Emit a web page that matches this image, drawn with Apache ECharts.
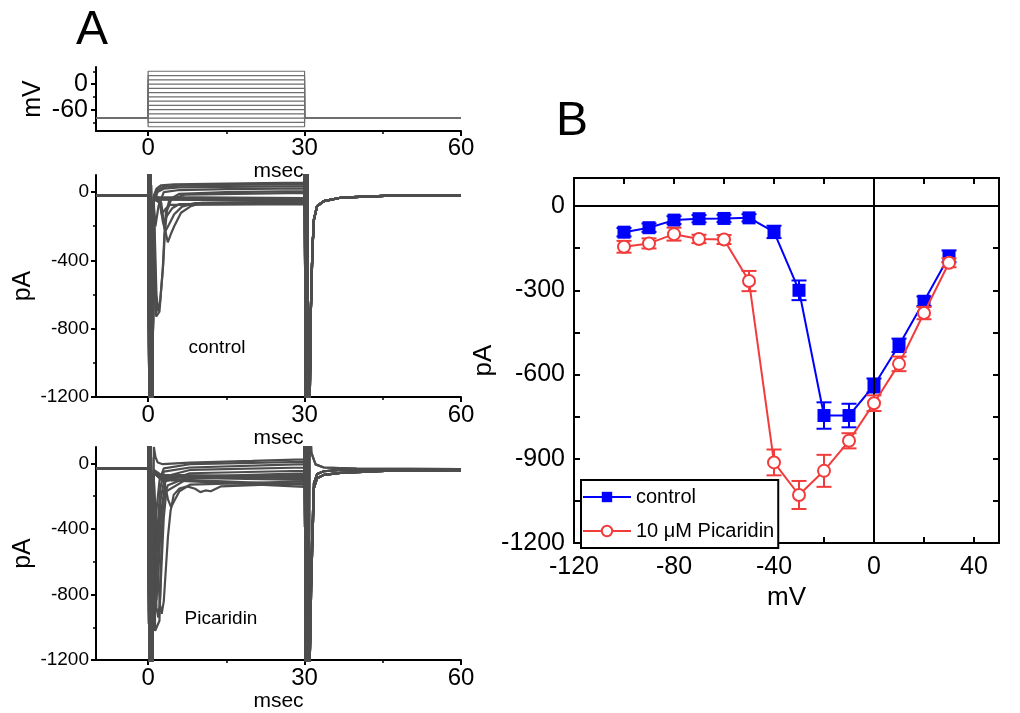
<!DOCTYPE html>
<html>
<head>
<meta charset="utf-8">
<script src="https://cdn.jsdelivr.net/npm/echarts@6/dist/echarts.min.js"></script>
<style>
  html, body { margin: 0; padding: 0; background: #fff; }
  #chart { width: 1020px; height: 713px; }
</style>
</head>
<body>
<div id="chart"></div>
<script>
// ---------- Panel A: voltage protocol ----------
const stepVoltages = [-100, -90, -80, -70, -60, -50, -40, -30, -20, -10, 0, 10, 20, 30];
const holdingVoltage = -80;
const timeTicks = [0, 30, 60];
const timeMinorTicks = [15, 45];
const mvTicks = [0, -60];
const mvMinorTicks = [30, -30, -90];
const paTicks = [0, -400, -800, -1200];
const paMinorTicks = [-200, -600, -1000];

// ---------- Panel A: current traces (t in msec, I in pA) ----------
const controlHolding = -19;
const picaridinHolding = -31;
// capacitive transients at step onset / offset (clipped by the axes)
const onsetTransient = [[0.0, 300], [0.25, -1500], [0.5, 300], [0.75, -1500], [0.9, -1500]];
const offsetTransient = [[30.0, 300], [30.25, -1500], [30.5, 300], [30.75, -1500], [30.9, -1500]];

const controlBodies = [
  [[1.1, -20], [1.6, 20], [2.5, 40], [5, 45], [15, 50], [30, 55]],
  [[1.1, -40], [1.7, 10], [2.8, 30], [6, 38], [15, 42], [30, 46]],
  [[1.1, -60], [1.8, 0], [3, 20], [6, 27], [15, 31], [30, 35]],
  [[1.1, -90], [1.4, -200], [2, -80], [3, 0], [6, 12], [15, 17], [30, 22]],
  [[1.08, -62], [1.53, -729], [1.85, -739], [2.17, -700], [2.8, -455], [3.1, -259], [3.4, -121], [4.1, -43], [6, -10], [15, 0], [30, 5]],
  [[1.1, -60], [1.6, -600], [1.95, -700], [2.3, -640], [2.9, -420], [3.2, -240], [3.6, -110], [4.4, -45], [7, -15], [30, -5]],
  [[1.1, -40], [2.5, -60], [3.1, -200], [3.77, -294], [4.3, -250], [5, -200], [6.3, -121], [8.2, -82], [10.2, -63], [30, -55]],
  [[1.1, -40], [2.3, -60], [2.8, -170], [3.3, -230], [4, -190], [5, -130], [6.5, -85], [9, -65], [30, -60]],
  [[1.1, -40], [2.2, -60], [2.6, -130], [3, -175], [3.6, -140], [4.6, -95], [6, -70], [30, -65]],
  [[1.1, -40], [2.1, -60], [2.5, -100], [2.8, -120], [3.3, -100], [4.2, -75], [30, -70]],
  [[1.1, -30], [2, -45], [30, -50]],
  [[1.1, -30], [2, -42], [30, -45]],
  [[1.1, -30], [2, -38], [30, -40]],
  [[1.1, -25], [2, -30], [30, -35]]
];
const controlTail = [[31.0, -1200], [31.2, -700], [31.5, -337], [31.8, -160], [32.4, -82], [33.7, -53], [36.9, -33], [46.5, -21], [60, -19]];

const picaridinBodies = [
  [[1.1, 100], [1.4, 40], [1.85, 5], [2.8, -5], [8, 5], [20, 15], [30, 25]],
  [[1.1, -100], [1.35, -381], [1.7, -250], [2.2, -100], [3, -30], [8, -5], [20, 3], [30, 10]],
  [[1.1, -200], [1.4, -562], [1.8, -400], [2.3, -160], [3, -50], [8, -25], [30, -5]],
  [[1.1, -250], [1.5, -702], [1.9, -520], [2.4, -220], [3.2, -80], [8, -40], [30, -25]],
  [[1.1, -300], [1.6, -836], [2, -650], [2.5, -300], [3.3, -110], [8, -60], [30, -45]],
  [[1.08, -150], [1.34, -1022], [1.72, -1033], [2.17, -960], [2.36, -744], [2.6, -447], [2.8, -290], [3.1, -192], [3.8, -133], [8, -80], [30, -60]],
  [[1.1, -250], [1.6, -880], [1.95, -940], [2.3, -820], [2.6, -600], [3, -330], [3.5, -170], [8, -85], [30, -70]],
  [[1.1, -100], [1.6, -400], [2.2, -850], [2.6, -918], [3, -840], [3.4, -643], [3.8, -447], [4.3, -290], [4.9, -192], [6, -153], [7.5, -140], [9, -155], [10, -175], [11, -165], [12, -170], [14, -140], [30, -120]],
  [[1.1, -60], [3, -90], [3.8, -220], [4.4, -267], [5, -230], [6, -170], [8, -130], [30, -110]],
  [[1.1, -60], [2.5, -100], [30, -143]],
  [[1.1, -60], [2.5, -95], [30, -130]],
  [[1.1, -50], [2.5, -85], [30, -100]],
  [[1.1, -50], [2.5, -80], [30, -90]],
  [[1.1, -40], [2.5, -70], [30, -80]]
];
const picaridinTailHigh = [[31.0, 300], [31.3, 65], [32.1, -6], [33.7, -25], [40, -32], [60, -35]];
const picaridinTailMid = [[31.0, -1200], [31.3, -600], [31.8, -120], [32.4, -65], [33.7, -48], [36.9, -40], [46.5, -35], [60, -36]];
const picaridinTailLow = [[31.0, -1200], [31.3, -700], [31.8, -150], [32.4, -90], [33.7, -70], [36.9, -58], [46.5, -45], [60, -42]];
const picaridinTails = [
  picaridinTailHigh, picaridinTailHigh,
  picaridinTailMid, picaridinTailMid, picaridinTailMid, picaridinTailMid, picaridinTailMid,
  picaridinTailLow, picaridinTailLow, picaridinTailLow, picaridinTailLow, picaridinTailLow, picaridinTailLow, picaridinTailLow
];

// ---------- Panel B: current-voltage relation ----------
const ivVoltage = [-100, -90, -80, -70, -60, -50, -40, -30, -20, -10, 0, 10, 20, 30];
const controlCurrent = [-93, -77, -50, -45, -44, -42, -92, -300, -746, -746, -639, -496, -339, -179];
const controlSem = [15, 15, 14, 13, 13, 13, 22, 35, 47, 42, 25, 24, 17, 21];
const picaridinCurrent = [-145, -133, -100, -117, -119, -267, -913, -1029, -943, -836, -702, -562, -381, -202];
const picaridinSem = [21, 18, 23, 15, 16, 36, 46, 50, 57, 27, 28, 26, 22, 16];
const ivXTicksLabelled = 40;
const ivYTicksLabelled = 300;

const FONT = "'Liberation Sans', Arial, Helvetica, sans-serif";
const TRACE = '#4d4d4d';
const BLUE = '#0000ff';
const RED = '#f23c3c';

const chart = echarts.init(document.getElementById('chart'), null, { renderer: 'canvas' });

const grids = [
  { left: 96, top: 67, width: 365, height: 64 },
  { left: 96, top: 175, width: 365, height: 222 },
  { left: 96, top: 447, width: 365, height: 221 },
  { left: 574, top: 178, width: 425, height: 365 }
];

const plain = v => String(v);

function panelAXAxes(gi, nameGap, margin) {
  return [
    {
      type: 'value', gridIndex: gi, min: -10, max: 60, position: 'bottom',
      name: 'msec', nameLocation: 'middle', nameGap: nameGap,
      nameTextStyle: { fontSize: 21, color: '#000', fontFamily: FONT },
      axisLine: { onZero: false, lineStyle: { color: '#000', width: 2 } },
      axisTick: { customValues: timeTicks, length: 5, lineStyle: { color: '#000', width: 2 } },
      axisLabel: { customValues: timeTicks, fontSize: 24, color: '#000', margin: margin, fontFamily: FONT, formatter: plain },
      splitLine: { show: false }
    },
    {
      type: 'value', gridIndex: gi, min: -10, max: 60, position: 'bottom',
      axisLine: { show: false, onZero: false },
      axisTick: { customValues: timeMinorTicks, length: 3, lineStyle: { color: '#000', width: 1.5 } },
      axisLabel: { show: false }, splitLine: { show: false }
    }
  ];
}

function panelAYAxes(gi, range, ticks, minor, name, nameGap, fontSize, margin) {
  return [
    {
      type: 'value', gridIndex: gi, min: range[0], max: range[1], position: 'left',
      name: name, nameLocation: 'middle', nameGap: nameGap,
      nameTextStyle: { fontSize: 25, color: '#000', fontFamily: FONT },
      axisLine: { onZero: false, lineStyle: { color: '#000', width: 2 } },
      axisTick: { customValues: ticks, length: 5, lineStyle: { color: '#000', width: 2 } },
      axisLabel: { customValues: ticks, fontSize: fontSize, color: '#000', margin: margin, fontFamily: FONT, formatter: plain },
      splitLine: { show: false }
    },
    {
      type: 'value', gridIndex: gi, min: range[0], max: range[1], position: 'left',
      axisLine: { show: false, onZero: false },
      axisTick: { customValues: minor, length: 3, lineStyle: { color: '#000', width: 1.5 } },
      axisLabel: { show: false }, splitLine: { show: false }
    }
  ];
}

const ivAxisCommon = {
  axisLine: { onZero: false, lineStyle: { color: '#000', width: 2 } },
  axisTick: { inside: true, length: 6, lineStyle: { color: '#000', width: 2 } },
  splitLine: { show: false }
};

const xAxes = [].concat(
  panelAXAxes(0, 20, 5),
  panelAXAxes(1, 26, 6),
  panelAXAxes(2, 26, 6),
  [
    Object.assign({
      type: 'value', gridIndex: 3, min: -120, max: 50, interval: 20, position: 'bottom',
      name: 'mV', nameLocation: 'middle', nameGap: 39,
      nameTextStyle: { fontSize: 26, color: '#000', fontFamily: FONT },
      axisLabel: {
        fontSize: 25, color: '#000', margin: 12, fontFamily: FONT,
        formatter: v => (v % ivXTicksLabelled === 0 ? String(v) : '')
      }
    }, ivAxisCommon),
    Object.assign({
      type: 'value', gridIndex: 3, min: -120, max: 50, interval: 20, position: 'top',
      axisLabel: { show: false }
    }, ivAxisCommon)
  ]
);

const yAxes = [].concat(
  panelAYAxes(0, [-110, 40], mvTicks, mvMinorTicks, 'mV', 50, 25, 8),
  panelAYAxes(1, [-1200, 100], paTicks, paMinorTicks, 'pA', 60, 19, 7),
  panelAYAxes(2, [-1200, 100], paTicks, paMinorTicks, 'pA', 60, 19, 7),
  [
    Object.assign({
      type: 'value', gridIndex: 3, min: -1200, max: 100, interval: 150, position: 'left',
      name: 'pA', nameLocation: 'middle', nameGap: 72,
      nameTextStyle: { fontSize: 26, color: '#000', fontFamily: FONT },
      axisLabel: {
        fontSize: 25, color: '#000', margin: 9, fontFamily: FONT,
        formatter: v => (v % ivYTicksLabelled === 0 ? String(v) : '')
      }
    }, ivAxisCommon),
    Object.assign({
      type: 'value', gridIndex: 3, min: -1200, max: 100, interval: 150, position: 'right',
      axisLabel: { show: false }
    }, ivAxisCommon)
  ]
);

const series = [];

// voltage steps
stepVoltages.forEach(v => {
  series.push({
    type: 'line', xAxisIndex: 0, yAxisIndex: 0, symbol: 'none', silent: true,
    lineStyle: { color: '#6e6e6e', width: 1.2 },
    data: [[-10, holdingVoltage], [0, holdingVoltage], [0, v], [30, v], [30, holdingVoltage], [60, holdingVoltage]]
  });
});

// current traces
function traceSeries(axisIndex, bodies, holding, tails) {
  bodies.forEach((body, i) => {
    series.push({
      type: 'line', xAxisIndex: axisIndex, yAxisIndex: axisIndex, symbol: 'none', silent: true, clip: true,
      lineStyle: { color: TRACE, width: 2.2 },
      data: [[-10, holding], [0, holding]].concat(onsetTransient, body, offsetTransient, tails[i])
    });
  });
}
traceSeries(2, controlBodies, controlHolding, controlBodies.map(() => controlTail));
traceSeries(4, picaridinBodies, picaridinHolding, picaridinTails);

// zero reference lines for the I-V plot
series.push({
  type: 'line', xAxisIndex: 6, yAxisIndex: 6, data: [], silent: true, z: 2,
  markLine: {
    silent: true, symbol: ['none', 'none'], label: { show: false },
    lineStyle: { color: '#000', width: 2, type: 'solid' },
    data: [{ yAxis: 0 }, { xAxis: 0 }]
  }
});

function errorBars(values, sems, color, z) {
  return {
    type: 'custom', xAxisIndex: 6, yAxisIndex: 6, silent: true, z: z,
    data: ivVoltage.map((v, i) => [v, values[i] - sems[i], values[i] + sems[i]]),
    renderItem: (params, api) => {
      const lo = api.coord([api.value(0), api.value(1)]);
      const hi = api.coord([api.value(0), api.value(2)]);
      const hw = 7.5;
      const style = { stroke: color, lineWidth: 2 };
      return {
        type: 'group',
        children: [
          { type: 'line', shape: { x1: lo[0], y1: lo[1], x2: hi[0], y2: hi[1] }, style: style },
          { type: 'line', shape: { x1: lo[0] - hw, y1: lo[1], x2: lo[0] + hw, y2: lo[1] }, style: style },
          { type: 'line', shape: { x1: hi[0] - hw, y1: hi[1], x2: hi[0] + hw, y2: hi[1] }, style: style }
        ]
      };
    }
  };
}

series.push(errorBars(controlCurrent, controlSem, BLUE, 3));
series.push({
  name: 'control', type: 'line', xAxisIndex: 6, yAxisIndex: 6, z: 4,
  symbol: 'rect', symbolSize: 13,
  itemStyle: { color: BLUE },
  lineStyle: { color: BLUE, width: 2 },
  data: ivVoltage.map((v, i) => [v, controlCurrent[i]])
});
series.push(errorBars(picaridinCurrent, picaridinSem, RED, 5));
series.push({
  name: '10 μM Picaridin', type: 'line', xAxisIndex: 6, yAxisIndex: 6, z: 6,
  symbol: 'emptyCircle', symbolSize: 12,
  itemStyle: { color: RED, borderWidth: 2 },
  lineStyle: { color: RED, width: 2 },
  data: ivVoltage.map((v, i) => [v, picaridinCurrent[i]])
});

const option = {
  animation: false,
  backgroundColor: '#fff',
  textStyle: { fontFamily: FONT },
  grid: grids,
  xAxis: xAxes,
  yAxis: yAxes,
  legend: {
    left: 581, top: 480, orient: 'vertical',
    data: ['control', '10 μM Picaridin'],
    itemWidth: 48, itemHeight: 13, itemGap: 14,
    padding: [7, 4, 7, 1],
    borderColor: '#000', borderWidth: 2, backgroundColor: '#fff',
    textStyle: { fontSize: 20, color: '#000', fontFamily: FONT },
    selectedMode: false
  },
  graphic: [
    { type: 'text', x: 92, y: 31, silent: true,
      style: { text: 'A', font: '48px ' + FONT, fill: '#000', textAlign: 'center', textVerticalAlign: 'middle' } },
    { type: 'text', x: 572, y: 122, silent: true,
      style: { text: 'B', font: '48px ' + FONT, fill: '#000', textAlign: 'center', textVerticalAlign: 'middle' } },
    { type: 'text', x: 217, y: 348, silent: true,
      style: { text: 'control', font: '19px ' + FONT, fill: '#000', textAlign: 'center', textVerticalAlign: 'middle' } },
    { type: 'text', x: 221, y: 619, silent: true,
      style: { text: 'Picaridin', font: '19px ' + FONT, fill: '#000', textAlign: 'center', textVerticalAlign: 'middle' } }
  ],
  series: series
};

chart.setOption(option);
</script>
</body>
</html>
